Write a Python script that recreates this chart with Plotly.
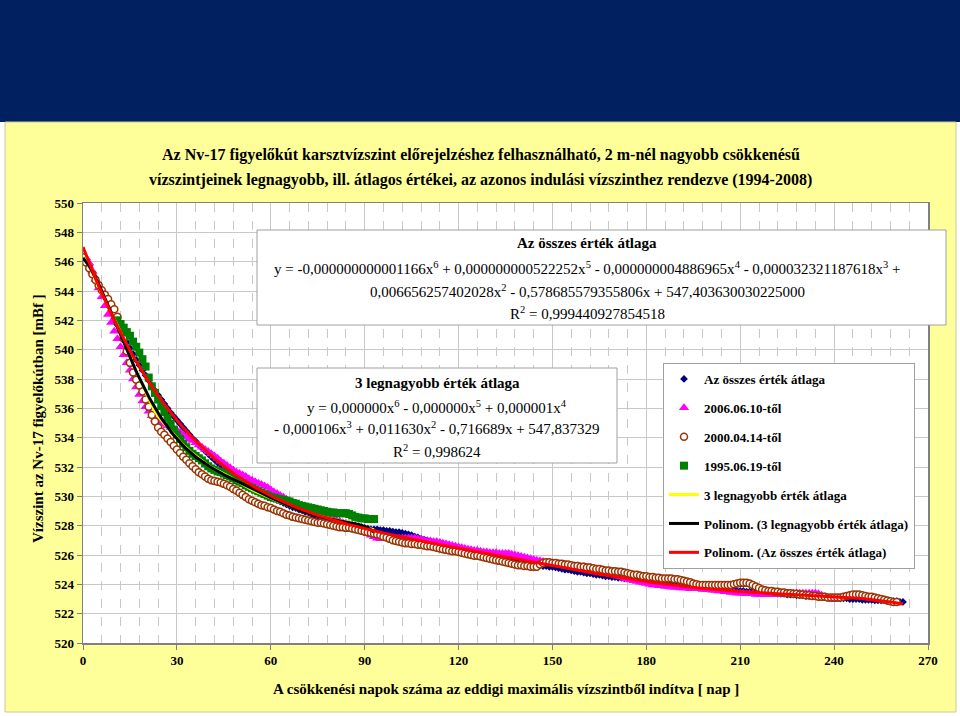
import numpy as np
import plotly.graph_objects as go

# ---------------- data ----------------
# "Az összes érték átlaga" - daily values, day 0..262
osszes = [
    546.30, 546.00, 545.70, 545.30, 544.90, 544.45, 544.00, 543.55, 543.10, 542.65,
    542.15, 541.70, 541.30, 540.90, 540.50, 540.10, 539.70, 539.30, 538.95, 538.60,
    538.25, 537.90, 537.55, 537.20, 536.90, 536.60, 536.30, 536.00, 535.70, 535.45,
    535.20, 534.95, 534.70, 534.45, 534.20, 533.95, 533.75, 533.50, 533.30, 533.10,
    532.90, 532.70, 532.50, 532.30, 532.15, 531.95, 531.80, 531.65, 531.50, 531.35,
    531.20, 531.05, 530.90, 530.80, 530.65, 530.55, 530.40, 530.30, 530.15, 530.05,
    529.95, 529.85, 529.75, 529.65, 529.55, 529.45, 529.35, 529.25, 529.20, 529.10,
    529.05, 528.95, 528.90, 528.80, 528.70, 528.65, 528.55, 528.50, 528.45, 528.40,
    528.35, 528.30, 528.25, 528.20, 528.15, 528.10, 528.05, 528.00, 527.95, 527.90,
    527.85, 527.80, 527.75, 527.75, 527.75, 527.70, 527.70, 527.65, 527.65, 527.60,
    527.55, 527.55, 527.50, 527.45, 527.40, 527.35, 527.25, 527.20, 527.10, 527.05,
    527.00, 526.95, 526.90, 526.85, 526.80, 526.70, 526.65, 526.60, 526.55, 526.50,
    526.45, 526.40, 526.35, 526.30, 526.25, 526.20, 526.15, 526.10, 526.05, 526.00,
    525.95, 525.90, 525.85, 525.85, 525.80, 525.75, 525.70, 525.65, 525.60, 525.55,
    525.55, 525.50, 525.45, 525.40, 525.35, 525.30, 525.30, 525.25, 525.25, 525.20,
    525.20, 525.15, 525.10, 525.05, 525.00, 525.00, 524.95, 524.90, 524.85, 524.85,
    524.80, 524.75, 524.75, 524.70, 524.65, 524.65, 524.60, 524.55, 524.55, 524.50,
    524.50, 524.45, 524.45, 524.40, 524.40, 524.35, 524.35, 524.30, 524.30, 524.25,
    524.25, 524.20, 524.20, 524.15, 524.15, 524.10, 524.10, 524.05, 524.05, 524.00,
    524.00, 523.95, 523.95, 523.90, 523.90, 523.85, 523.85, 523.80, 523.80, 523.75,
    523.75, 523.70, 523.70, 523.70, 523.65, 523.65, 523.60, 523.60, 523.60, 523.55,
    523.55, 523.55, 523.50, 523.50, 523.50, 523.45, 523.45, 523.45, 523.40, 523.40,
    523.40, 523.40, 523.35, 523.35, 523.35, 523.30, 523.30, 523.30, 523.25, 523.25,
    523.25, 523.20, 523.20, 523.20, 523.20, 523.15, 523.15, 523.15, 523.10, 523.10,
    523.10, 523.10, 523.05, 523.05, 523.05, 523.00, 523.00, 523.00, 523.00, 522.95,
    522.95, 522.95, 522.95, 522.90, 522.90, 522.90, 522.90, 522.85, 522.85, 522.85,
    522.85, 522.80, 522.80,
]

# "2006.06.10-től" - day 0..240
tol_2006 = [
    546.30, 546.25, 545.90, 545.35, 544.80, 544.20, 543.60, 543.00, 542.40, 541.85,
    541.25, 540.75, 540.20, 539.65, 539.10, 538.60, 538.00, 537.45, 536.95, 536.50,
    536.10, 535.80, 535.50, 535.25, 535.10, 535.00, 534.90, 534.80, 534.70, 534.60,
    534.50, 534.35, 534.20, 534.05, 533.90, 533.80, 533.65, 533.50, 533.35, 533.20,
    533.05, 532.90, 532.75, 532.60, 532.40, 532.25, 532.10, 531.95, 531.80, 531.65,
    531.55, 531.45, 531.35, 531.20, 531.10, 531.00, 530.90, 530.80, 530.70, 530.60,
    530.45, 530.30, 530.20, 530.05, 529.95, 529.80, 529.70, 529.55, 529.45, 529.35,
    529.20, 529.10, 529.00, 528.90, 528.85, 528.75, 528.70, 528.60, 528.55, 528.45,
    528.40, 528.35, 528.30, 528.20, 528.15, 528.05, 527.95, 527.85, 527.75, 527.65,
    527.55, 527.45, 527.35, 527.25, 527.15, 527.10, 527.10, 527.15, 527.15, 527.15,
    527.15, 527.15, 527.15, 527.15, 527.15, 527.15, 527.15, 527.10, 527.05, 527.00,
    526.95, 526.95, 526.90, 526.90, 526.85, 526.80, 526.75, 526.70, 526.65, 526.60,
    526.55, 526.50, 526.45, 526.40, 526.35, 526.30, 526.30, 526.25, 526.20, 526.20,
    526.15, 526.15, 526.15, 526.10, 526.10, 526.10, 526.10, 526.05, 526.00, 525.95,
    525.90, 525.85, 525.80, 525.75, 525.70, 525.65, 525.60, 525.55, 525.50, 525.50,
    525.45, 525.40, 525.40, 525.35, 525.35, 525.30, 525.30, 525.25, 525.25, 525.20,
    525.20, 525.15, 525.15, 525.10, 525.05, 525.00, 524.95, 524.85, 524.80, 524.70,
    524.65, 524.55, 524.50, 524.40, 524.35, 524.30, 524.25, 524.20, 524.15, 524.10,
    524.05, 524.00, 523.95, 523.95, 523.90, 523.90, 523.85, 523.85, 523.80, 523.80,
    523.80, 523.75, 523.75, 523.75, 523.70, 523.70, 523.70, 523.70, 523.65, 523.65,
    523.65, 523.60, 523.60, 523.55, 523.55, 523.50, 523.50, 523.45, 523.45, 523.40,
    523.40, 523.40, 523.35, 523.35, 523.35, 523.30, 523.30, 523.30, 523.30, 523.30,
    523.30, 523.30, 523.30, 523.30, 523.35, 523.35, 523.35, 523.40, 523.40, 523.40,
    523.40, 523.40, 523.40, 523.40, 523.40, 523.35, 523.25, 523.15, 523.05, 523.00,
    522.95,
]

# "2000.04.14-től" - day 0..260
tol_2000 = [
    546.30, 545.95, 545.55, 545.15, 544.75, 544.40, 544.05, 543.75, 543.45, 543.10,
    542.75, 542.25, 541.55, 540.75, 539.90, 539.10, 538.45, 537.95, 537.55, 537.15,
    536.60, 536.10, 535.55, 535.10, 534.70, 534.40, 534.20, 533.95, 533.70, 533.45,
    533.20, 532.95, 532.70, 532.50, 532.25, 532.05, 531.85, 531.65, 531.50, 531.35,
    531.20, 531.10, 531.05, 531.00, 530.95, 530.85, 530.75, 530.65, 530.50, 530.40,
    530.25, 530.10, 529.95, 529.80, 529.70, 529.60, 529.50, 529.40, 529.35, 529.25,
    529.20, 529.10, 529.00, 528.95, 528.85, 528.75, 528.70, 528.60, 528.55, 528.50,
    528.45, 528.40, 528.35, 528.30, 528.25, 528.20, 528.20, 528.15, 528.10, 528.05,
    528.00, 527.95, 527.90, 527.90, 527.85, 527.85, 527.80, 527.75, 527.70, 527.65,
    527.60, 527.55, 527.50, 527.45, 527.40, 527.35, 527.25, 527.20, 527.10, 527.00,
    526.95, 526.90, 526.85, 526.80, 526.80, 526.75, 526.75, 526.70, 526.70, 526.65,
    526.60, 526.60, 526.55, 526.50, 526.45, 526.40, 526.35, 526.30, 526.25, 526.25,
    526.20, 526.15, 526.10, 526.05, 526.00, 525.95, 525.95, 525.90, 525.85, 525.80,
    525.75, 525.70, 525.65, 525.60, 525.55, 525.50, 525.45, 525.40, 525.35, 525.30,
    525.30, 525.25, 525.25, 525.20, 525.20, 525.20, 525.35, 525.45, 525.50, 525.50,
    525.45, 525.45, 525.40, 525.40, 525.35, 525.35, 525.30, 525.25, 525.25, 525.20,
    525.20, 525.15, 525.15, 525.10, 525.05, 525.05, 525.00, 524.95, 524.95, 524.90,
    524.90, 524.85, 524.85, 524.80, 524.75, 524.70, 524.65, 524.65, 524.60, 524.55,
    524.55, 524.50, 524.50, 524.45, 524.45, 524.40, 524.40, 524.40, 524.40, 524.35,
    524.35, 524.30, 524.25, 524.20, 524.15, 524.05, 524.00, 523.95, 523.95, 523.95,
    523.95, 523.95, 523.95, 523.95, 523.95, 523.95, 523.95, 523.95, 524.00, 524.05,
    524.10, 524.10, 524.10, 524.05, 523.95, 523.85, 523.75, 523.65, 523.60, 523.55,
    523.55, 523.50, 523.50, 523.45, 523.45, 523.40, 523.40, 523.35, 523.35, 523.30,
    523.30, 523.25, 523.25, 523.20, 523.20, 523.15, 523.15, 523.15, 523.10, 523.10,
    523.10, 523.10, 523.10, 523.15, 523.20, 523.25, 523.30, 523.30, 523.30, 523.25,
    523.20, 523.15, 523.15, 523.10, 523.05, 523.00, 522.95, 522.90, 522.85, 522.80,
    522.80,
]

# "1995.06.19-től" - days 11..93
tol_1995_start = 11
tol_1995 = [
    542.00, 541.75, 541.50, 541.20, 540.95, 540.55, 540.20, 539.80, 539.35,
    538.85, 538.10, 537.50, 537.05, 536.60, 536.15, 535.75, 535.35, 534.95, 534.55,
    534.20, 533.90, 533.60, 533.35, 533.10, 532.90, 532.75, 532.60, 532.45, 532.25,
    532.05, 531.90, 531.80, 531.70, 531.65, 531.55, 531.45, 531.35, 531.25, 531.10,
    531.00, 530.90, 530.75, 530.65, 530.55, 530.45, 530.35, 530.25, 530.15, 530.05,
    529.95, 529.90, 529.85, 529.80, 529.75, 529.70, 529.65, 529.55, 529.50, 529.40,
    529.35, 529.30, 529.25, 529.20, 529.15, 529.10, 529.05, 529.00, 528.95, 528.90,
    528.90, 528.85, 528.85, 528.85, 528.85, 528.80, 528.70, 528.60, 528.55, 528.50,
    528.50, 528.45, 528.45, 528.45,
]

# "3 legnagyobb érték átlaga" - day 0..93
legnagyobb3 = [
    546.30, 546.10, 545.70, 545.25, 544.80, 544.35, 543.90, 543.45, 543.00, 542.55,
    542.10, 541.67, 541.17, 540.63, 540.07, 539.55, 539.00, 538.53, 538.10, 537.67,
    537.18, 536.67, 536.18, 535.80, 535.47, 535.18, 534.95, 534.70, 534.45, 534.18,
    533.97, 533.73, 533.50, 533.30, 533.08, 532.92, 532.75, 532.58, 532.43, 532.27,
    532.10, 531.97, 531.87, 531.77, 531.67, 531.55, 531.43, 531.32, 531.18, 531.05,
    530.93, 530.82, 530.68, 530.55, 530.45, 530.35, 530.25, 530.15, 530.07, 529.97,
    529.87, 529.77, 529.68, 529.60, 529.52, 529.42, 529.35, 529.23, 529.17, 529.08,
    529.00, 528.93, 528.87, 528.80, 528.75, 528.68, 528.65, 528.58, 528.53, 528.47,
    528.43, 528.38, 528.35, 528.32, 528.28, 528.23, 528.15, 528.07, 528.00, 527.93,
    527.88, 527.82, 527.77, 527.72,
]

x_ticks = [0, 30, 60, 90, 120, 150, 180, 210, 240, 270]
y_ticks = [520, 522, 524, 526, 528, 530, 532, 534, 536, 538, 540, 542, 544, 546, 548, 550]

names = ["Az összes érték átlaga", "2006.06.10-től", "2000.04.14-től", "1995.06.19-től",
         "3 legnagyobb érték átlaga", "Polinom. (3 legnagyobb érték átlaga)",
         "Polinom. (Az összes érték átlaga)"]

# ---------------- derived: 6th-order polynomial trendlines (as in Excel) ----------------
d_osszes = np.arange(len(osszes))
d_2006 = np.arange(len(tol_2006))
d_2000 = np.arange(len(tol_2000))
d_1995 = np.arange(tol_1995_start, tol_1995_start + len(tol_1995))
d_3 = np.arange(len(legnagyobb3))

p_all = np.polynomial.Polynomial.fit(d_osszes, osszes, 6)
p_3 = np.polynomial.Polynomial.fit(d_3, legnagyobb3, 6)
xs_all = np.linspace(0, d_osszes[-1], 400)
xs_3 = np.linspace(0, d_3[-1], 200)

FONT = "Liberation Serif"

fig = go.Figure()
fig.add_trace(go.Scatter(x=d_osszes, y=osszes, mode="markers", name=names[0],
                         legendgroup="a",
                         marker=dict(symbol="diamond", size=6, color="#000080")))
fig.add_trace(go.Scatter(x=d_2006, y=tol_2006, mode="markers", name=names[1],
                         legendgroup="b",
                         marker=dict(symbol="triangle-up", size=9, color="#FF00FF")))
fig.add_trace(go.Scatter(x=d_2000, y=tol_2000, mode="markers", name=names[2],
                         legendgroup="c",
                         marker=dict(symbol="circle", size=7, color="white",
                                     line=dict(color="#993300", width=1.5))))
fig.add_trace(go.Scatter(x=d_1995, y=tol_1995, mode="markers", name=names[3],
                         legendgroup="d",
                         marker=dict(symbol="square", size=8, color="#008000")))
fig.add_trace(go.Scatter(x=d_3, y=legnagyobb3, mode="lines", name=names[4],
                         legendgroup="e",
                         line=dict(color="#FFFF00", width=3)))
fig.add_trace(go.Scatter(x=xs_3, y=p_3(xs_3), mode="lines", name=names[5],
                         legendgroup="f",
                         line=dict(color="black", width=3)))
fig.add_trace(go.Scatter(x=xs_all, y=p_all(xs_all), mode="lines", name=names[6],
                         legendgroup="g",
                         line=dict(color="#FF0000", width=3)))

L, R, T, B = 83, 928, 203, 643
W, H = 960, 716


def px(x):
    return (x - L) / (R - L)


def py(y):
    return (B - y) / (B - T)


shapes = [
    dict(type="rect", xref="paper", yref="paper", x0=px(0), x1=px(960), y0=py(122), y1=py(0),
         fillcolor="#00205F", line=dict(width=0), layer="below"),
    dict(type="rect", xref="paper", yref="paper", x0=px(5), x1=px(956), y0=py(712), y1=py(122),
         fillcolor="#FFFF99", line=dict(width=1, color="#C8C8A0"), layer="below"),
    dict(type="rect", xref="paper", yref="paper", x0=0, x1=1, y0=0, y1=1,
         fillcolor="white", line=dict(width=0), layer="below"),
    # equation boxes
    dict(type="rect", xref="paper", yref="paper", x0=px(257), x1=px(946), y0=py(325), y1=py(230),
         fillcolor="white", line=dict(width=1, color="#A0A0A0"), layer="above"),
    dict(type="rect", xref="paper", yref="paper", x0=px(257), x1=px(617), y0=py(463), y1=py(368),
         fillcolor="white", line=dict(width=1, color="#A0A0A0"), layer="above"),
]

ann = []


def add_text(text, xp, yp, size, bold=False, **kw):
    ann.append(dict(text=("<b>%s</b>" % text) if bold else text, xref="paper", yref="paper",
                    x=px(xp), y=py(yp), showarrow=False, xanchor=kw.get("xanchor", "center"),
                    yanchor="middle", textangle=kw.get("angle", 0),
                    font=dict(family=FONT, size=size, color="black")))


add_text("Az Nv-17 figyelőkút karsztvízszint előrejelzéshez felhasználható, 2 m-nél nagyobb csökkenésű",
         481, 155, 16, bold=True)
add_text("vízszintjeinek legnagyobb, ill. átlagos értékei, az azonos indulási vízszinthez rendezve (1994-2008)",
         480, 180, 16, bold=True)
add_text("Vízszint az Nv-17 figyelőkútban [mBf ]", 38, 419, 15, bold=True, angle=-90)
add_text("A csökkenési napok száma az eddigi maximális vízszintből indítva [ nap ]", 506, 689, 15, bold=True)

add_text("Az összes érték átlaga", 587, 243, 15, bold=True)
add_text("y = -0,000000000001166x<sup>6</sup> + 0,000000000522252x<sup>5</sup> - 0,000000004886965x<sup>4</sup>"
         " - 0,000032321187618x<sup>3</sup> +", 587, 268, 15)
add_text("0,006656257402028x<sup>2</sup> - 0,578685579355806x + 547,403630030225000", 587, 291, 15)
add_text("R<sup>2</sup> = 0,999440927854518", 587, 313, 15)

add_text("3 legnagyobb érték átlaga", 437, 383, 15, bold=True)
add_text("y = 0,000000x<sup>6</sup> - 0,000000x<sup>5</sup> + 0,000001x<sup>4</sup>", 437, 407, 15)
add_text("- 0,000106x<sup>3</sup> + 0,011630x<sup>2</sup> - 0,716689x + 547,837329", 437, 428, 15)
add_text("R<sup>2</sup> = 0,998624", 437, 451, 15)

fig.update_layout(
    width=W, height=H,
    margin=dict(l=L, r=W - R, t=T, b=H - B, pad=0),
    paper_bgcolor="white", plot_bgcolor="white",
    showlegend=True,
    legend=dict(x=px(663), y=py(363), xanchor="left", yanchor="top",
                bgcolor="white", bordercolor="#A0A0A0", borderwidth=1,
                font=dict(family=FONT, size=13, color="black", weight="bold"),
                traceorder="grouped", tracegroupgap=9, itemwidth=30),
    shapes=shapes, annotations=ann,
)
fig.update_xaxes(range=[0, 270], tickvals=x_ticks, ticktext=[str(v) for v in x_ticks],
                 showline=True, linecolor="#808080", linewidth=1.5, mirror=True,
                 ticks="outside", ticklen=5, tickcolor="#808080",
                 showgrid=True, gridcolor="#C8C8C8", gridwidth=1, zeroline=False,
                 tickfont=dict(family=FONT, size=13, color="black", weight="bold"),
                 minor=dict(tickvals=[v for v in range(6, 270, 6) if v % 30 != 0],
                            showgrid=True, gridcolor="#C8C8C8", griddash="dash", gridwidth=1,
                            ticks=""))
fig.update_yaxes(range=[520, 550], tickvals=y_ticks, ticktext=[str(v) for v in y_ticks],
                 showline=True, linecolor="#808080", linewidth=1.5, mirror=True,
                 ticks="outside", ticklen=5, tickcolor="#808080",
                 showgrid=True, gridcolor="#C8C8C8", gridwidth=1, zeroline=False,
                 tickfont=dict(family=FONT, size=13, color="black", weight="bold"))

fig.write_html("out.html", config={"displayModeBar": False, "staticPlot": True},
               post_script="document.body.style.margin='0';document.body.style.overflow='hidden';")
